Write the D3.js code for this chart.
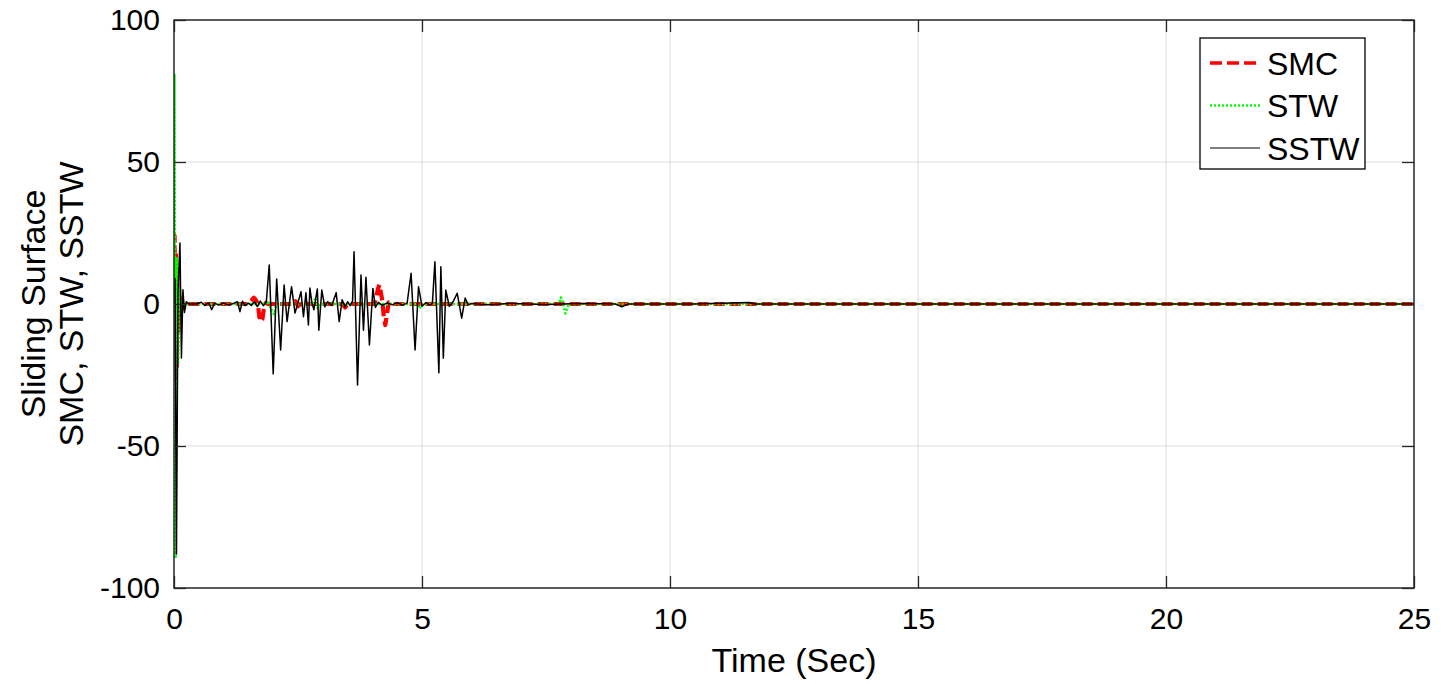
<!DOCTYPE html>
<html>
<head>
<meta charset="utf-8">
<script src="https://cdn.jsdelivr.net/npm/d3@7/dist/d3.min.js"></script>
<style>
  html, body { margin: 0; padding: 0; background: #fff; }
  svg { display: block; font-family: "Liberation Sans", Arial, Helvetica, sans-serif; }
</style>
</head>
<body>
<svg id="chart" width="1452" height="684"></svg>
<script>
// Sliding surface responses of three controllers over 25 s

const xTicks = [0, 5, 10, 15, 20, 25];
const yTicks = [-100, -50, 0, 50, 100];
const seriesNames = ["SMC", "STW", "SSTW"];

// SMC sliding surface (time in s, surface value)
const smcTime = [0, 0.012, 0.026, 0.04, 0.055, 0.07, 0.085, 0.1, 0.115, 0.135, 0.16, 0.2, 0.25, 0.4,
  1.5, 1.56, 1.61, 1.65, 1.69, 1.72, 1.75, 1.78, 1.81, 1.85, 1.9,
  2.4, 2.45, 2.5, 2.55, 3.4, 3.45, 3.5,
  4.04, 4.08, 4.11, 4.14, 4.17, 4.2, 4.23, 4.26, 4.29, 4.33, 4.38, 4.45, 25];
const smcValue = [0, 24, -26, 18, -22, 12, -10, 6, -4, 2, -1.5, 0.6, 0, 0,
  0, 1.2, 2.2, 1.4, 0.2, -4.5, -6.2, -5.5, -2, 0.4, 0,
  0, 1, -0.8, 0, 0, -1.2, 0,
  0, 2.5, 5.2, 6.8, 4, 1.2, -4.5, -7.4, -4, 0.6, 0.2, 0, 0];

// STW sliding surface
const stwTime = [0, 0.008, 0.03, 0.055, 0.085, 0.115, 0.145, 0.175, 0.21, 0.26, 0.4,
  1.85, 1.9, 1.94, 1.98, 2.02, 2.06, 2.1,
  2.8, 2.85, 2.9, 2.95, 4.9, 4.95, 5.0,
  7.76, 7.8, 7.83, 7.86, 7.89, 7.92, 7.96, 25];
const stwValue = [0, 81, -89.5, 16, -21, 6, -4, 1.5, -0.5, 0, 0,
  0, 1, -1.2, -2.6, -3.6, -0.5, 0,
  0, 2.2, -1.5, 0, 0, -1.5, 0,
  0, 2.3, 1.2, -1.2, -3.3, -1.8, 0, 0];

// SSTW sliding surface
const sstwTime = [0, 0.02, 0.05, 0.08, 0.12, 0.15, 0.18, 0.21, 0.25, 0.3,
  0.45, 0.55, 0.62, 0.7, 0.76, 0.82, 0.9, 1.0, 1.1, 1.2, 1.28, 1.33, 1.38, 1.43, 1.5,
  1.56, 1.62, 1.68, 1.74, 1.8, 1.86, 1.92, 2.0, 2.07, 2.15, 2.22, 2.28, 2.37, 2.44, 2.5,
  2.56, 2.61, 2.66, 2.71, 2.74, 2.78, 2.82, 2.89, 2.92, 2.98, 3.04, 3.1, 3.18, 3.27, 3.33,
  3.39, 3.45, 3.5, 3.55, 3.6, 3.63, 3.7, 3.77, 3.82, 3.87, 3.94, 4.01, 4.06, 4.12, 4.2,
  4.3, 4.4, 4.5, 4.6, 4.7, 4.78, 4.86, 4.93, 5.0, 5.08, 5.15, 5.21, 5.26, 5.34, 5.38,
  5.43, 5.48, 5.55, 5.62, 5.71, 5.8, 5.87, 5.93, 6.0, 6.3, 6.8, 7.5, 8.2, 8.9, 9.03, 9.15,
  10.5, 11.6, 11.7, 12.5, 25];
const sstwValue = [0, 9, -88, 4, 21.5, -19, 5, -3, 0.8, 0,
  0, 0.6, -0.5, 0.4, -2, 0.3, -0.4, 0.3, -0.3, 0.2, 0.8, -2.7, 1, -0.6, 0.3,
  -0.5, 0.8, -0.9, 1, -0.6, 0.5, 13.7, -24.6, 8.8, -16.2, 6.7, -6.2, 6.1, -3.2, 0.5,
  4.3, -4.5, 4, -7.4, 5.6, 0.5, -2, 5.3, -9.2, 4.9, -1, 0.8, -0.5, 4, -6.2,
  1.5, -1, 0.8, -0.6, 1, 18.4, -28.5, 10.2, -9.2, 9.4, -14.4, 5.5, -1.2, 0.6, -0.5,
  0.4, -0.3, 0.5, -0.4, 0.3, 10.8, -16.2, 6.1, -0.8, 0.5, -0.4, 0.3, 14.9, -24.2, 13.1,
  -19.1, 4.9, -0.8, 0.6, 3.8, -5, 2.1, -0.3, 0.2, -0.3, 0.2, -0.2, 0.2, 0, -1, 0,
  0, 0.5, 0, 0, 0];

const svg = d3.select("#chart");
const margin = { left: 174, right: 1414, top: 20, bottom: 588 };

const x = d3.scaleLinear().domain([0, 25]).range([margin.left, margin.right]);
const y = d3.scaleLinear().domain([-100, 100]).range([margin.bottom, margin.top]);

// clip region for the plotted curves
svg.append("defs").append("clipPath").attr("id", "plotClip")
  .append("rect")
  .attr("x", margin.left).attr("y", margin.top)
  .attr("width", margin.right - margin.left)
  .attr("height", margin.bottom - margin.top);

// grid
const grid = svg.append("g").attr("stroke", "#dcdcdc").attr("stroke-width", 1);
grid.selectAll("line.gx").data(xTicks.slice(1, -1)).join("line")
  .attr("x1", d => x(d)).attr("x2", d => x(d))
  .attr("y1", margin.top).attr("y2", margin.bottom);
grid.selectAll("line.gy").data(yTicks.slice(1, -1)).join("line")
  .attr("y1", d => y(d)).attr("y2", d => y(d))
  .attr("x1", margin.left).attr("x2", margin.right);

// curves
const toPoints = (ts, vs) => ts.map((t, i) => [t, vs[i]]);
const line = d3.line().x(d => x(d[0])).y(d => y(d[1]));
const plot = svg.append("g").attr("clip-path", "url(#plotClip)").attr("fill", "none");

const styles = {
  SMC:  { color: "#ff0000", width: 4.2, dash: "11,5" },
  STW:  { color: "#00ff00", width: 2.6, dash: "2,2" },
  SSTW: { color: "#000000", width: 1.5, dash: null }
};

const data = {
  SMC: toPoints(smcTime, smcValue),
  STW: toPoints(stwTime, stwValue),
  SSTW: toPoints(sstwTime, sstwValue)
};

seriesNames.forEach(name => {
  const s = styles[name];
  plot.append("path")
    .datum(data[name])
    .attr("d", line)
    .attr("stroke", s.color)
    .attr("stroke-width", s.width)
    .attr("stroke-dasharray", s.dash)
    .attr("stroke-linejoin", "round");
});

// axes with inward ticks on all four sides
const tickLen = 12;
const axisColor = "#262626";
const fmt = d => String(d);
const axB = d3.axisBottom(x).tickValues(xTicks).tickSize(-tickLen).tickPadding(20).tickFormat(fmt);
const axT = d3.axisTop(x).tickValues(xTicks).tickSize(-tickLen).tickFormat("");
const axL = d3.axisLeft(y).tickValues(yTicks).tickSize(-tickLen).tickPadding(14).tickFormat(fmt);
const axR = d3.axisRight(y).tickValues(yTicks).tickSize(-tickLen).tickFormat("");

function styleAxis(g) {
  g.select(".domain").remove();
  g.selectAll(".tick line").attr("stroke", axisColor).attr("stroke-width", 1.3);
  g.selectAll(".tick text").attr("fill", "#000").attr("font-size", 30)
    .attr("font-family", "'Liberation Sans', Arial, sans-serif");
}
svg.append("g").attr("transform", `translate(0,${margin.bottom})`).call(axB).call(styleAxis);
svg.append("g").attr("transform", `translate(0,${margin.top})`).call(axT).call(styleAxis);
svg.append("g").attr("transform", `translate(${margin.left},0)`).call(axL).call(styleAxis);
svg.append("g").attr("transform", `translate(${margin.right},0)`).call(axR).call(styleAxis);

// axes box
svg.append("rect")
  .attr("x", margin.left).attr("y", margin.top)
  .attr("width", margin.right - margin.left)
  .attr("height", margin.bottom - margin.top)
  .attr("fill", "none").attr("stroke", axisColor).attr("stroke-width", 1.5);

// axis labels
svg.append("text")
  .attr("x", (margin.left + margin.right) / 2).attr("y", 672)
  .attr("text-anchor", "middle").attr("font-size", 34).attr("fill", "#000")
  .text("Time (Sec)");

const yLabel = svg.append("text")
  .attr("transform", `translate(0,${(margin.top + margin.bottom) / 2}) rotate(-90)`)
  .attr("text-anchor", "middle").attr("font-size", 34).attr("fill", "#000");
yLabel.append("tspan").attr("x", 0).attr("y", 45).text("Sliding Surface");
yLabel.append("tspan").attr("x", 0).attr("y", 83).text("SMC, STW, SSTW");

// legend
const legend = svg.append("g");
legend.append("rect")
  .attr("x", 1200).attr("y", 38).attr("width", 165).attr("height", 131)
  .attr("fill", "#fff").attr("stroke", "#000").attr("stroke-width", 1.3);
seriesNames.forEach((name, i) => {
  const s = styles[name];
  const cy = 63 + i * 42.5;
  legend.append("line")
    .attr("x1", 1210).attr("x2", 1260).attr("y1", cy).attr("y2", cy)
    .attr("stroke", s.color).attr("stroke-width", name === "SMC" ? 3.6 : (name === "SSTW" ? 1.2 : s.width))
    .attr("stroke-dasharray", s.dash ? (name === "SMC" ? "12,5" : s.dash) : null);
  legend.append("text")
    .attr("x", 1267).attr("y", cy + 11.5)
    .attr("font-size", 32).attr("fill", "#000")
    .text(name);
});
</script>
</body>
</html>
